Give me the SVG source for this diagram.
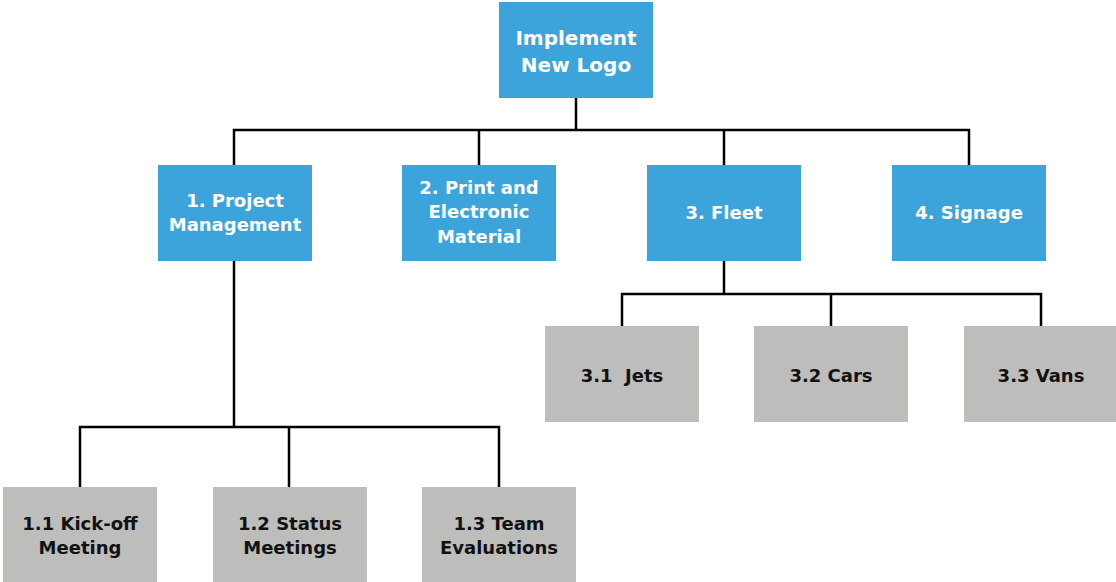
<svg xmlns="http://www.w3.org/2000/svg" width="1116" height="582" viewBox="0 0 1116 582">
  <style>
    .blue { fill: #3da4db; }
    .gray { fill: #bdbdbc; }
    .lbl { font-family: "DejaVu Sans", "Liberation Sans", sans-serif; font-weight: bold; text-anchor: middle; }
    .w { fill: #ffffff; }
    .k { fill: #111111; }
    .wire { fill: none; stroke: #000000; stroke-width: 2.5; }
  </style>
  <rect width="1116" height="582" fill="#ffffff"/>

  <g id="connectors">
    <!-- root to level 1 -->
    <path class="wire" d="M576 98V130M234 165V130H969V165M479 130V165M724 130V165"/>
    <!-- project management to its tasks -->
    <path class="wire" d="M234 261V427M80 487V427H499V487M289 427V487"/>
    <!-- fleet to its tasks -->
    <path class="wire" d="M724 261V294M622 326V294H1041V326M831 294V326"/>
  </g>

  <g id="root">
    <rect class="blue" x="499" y="2" width="154" height="96"/>
    <text class="lbl w" x="576" y="45" font-size="20">Implement</text>
    <text class="lbl w" x="576" y="72" font-size="20">New Logo</text>
  </g>

  <g id="n1">
    <rect class="blue" x="158" y="165" width="154" height="96"/>
    <text class="lbl w" x="235" y="207" font-size="18">1. Project</text>
    <text class="lbl w" x="235" y="231" font-size="18">Management</text>
  </g>
  <g id="n2">
    <rect class="blue" x="402" y="165" width="154" height="96"/>
    <text class="lbl w" x="479" y="194" font-size="18">2. Print and</text>
    <text class="lbl w" x="479" y="218" font-size="18">Electronic</text>
    <text class="lbl w" x="479" y="243" font-size="18">Material</text>
  </g>
  <g id="n3">
    <rect class="blue" x="647" y="165" width="154" height="96"/>
    <text class="lbl w" x="724" y="219" font-size="18">3. Fleet</text>
  </g>
  <g id="n4">
    <rect class="blue" x="892" y="165" width="154" height="96"/>
    <text class="lbl w" x="969" y="219" font-size="18">4. Signage</text>
  </g>

  <g id="n1-1">
    <rect class="gray" x="3" y="487" width="154" height="96"/>
    <text class="lbl k" x="80" y="530" font-size="18">1.1 Kick-off</text>
    <text class="lbl k" x="80" y="554" font-size="18">Meeting</text>
  </g>
  <g id="n1-2">
    <rect class="gray" x="213" y="487" width="154" height="96"/>
    <text class="lbl k" x="290" y="530" font-size="18">1.2 Status</text>
    <text class="lbl k" x="290" y="554" font-size="18">Meetings</text>
  </g>
  <g id="n1-3">
    <rect class="gray" x="422" y="487" width="154" height="96"/>
    <text class="lbl k" x="499" y="530" font-size="18">1.3 Team</text>
    <text class="lbl k" x="499" y="554" font-size="18">Evaluations</text>
  </g>

  <g id="n3-1">
    <rect class="gray" x="545" y="326" width="154" height="96"/>
    <text class="lbl k" x="622" y="382" font-size="18" xml:space="preserve">3.1  Jets</text>
  </g>
  <g id="n3-2">
    <rect class="gray" x="754" y="326" width="154" height="96"/>
    <text class="lbl k" x="831" y="382" font-size="18">3.2 Cars</text>
  </g>
  <g id="n3-3">
    <rect class="gray" x="964" y="326" width="154" height="96"/>
    <text class="lbl k" x="1041" y="382" font-size="18">3.3 Vans</text>
  </g>
</svg>
